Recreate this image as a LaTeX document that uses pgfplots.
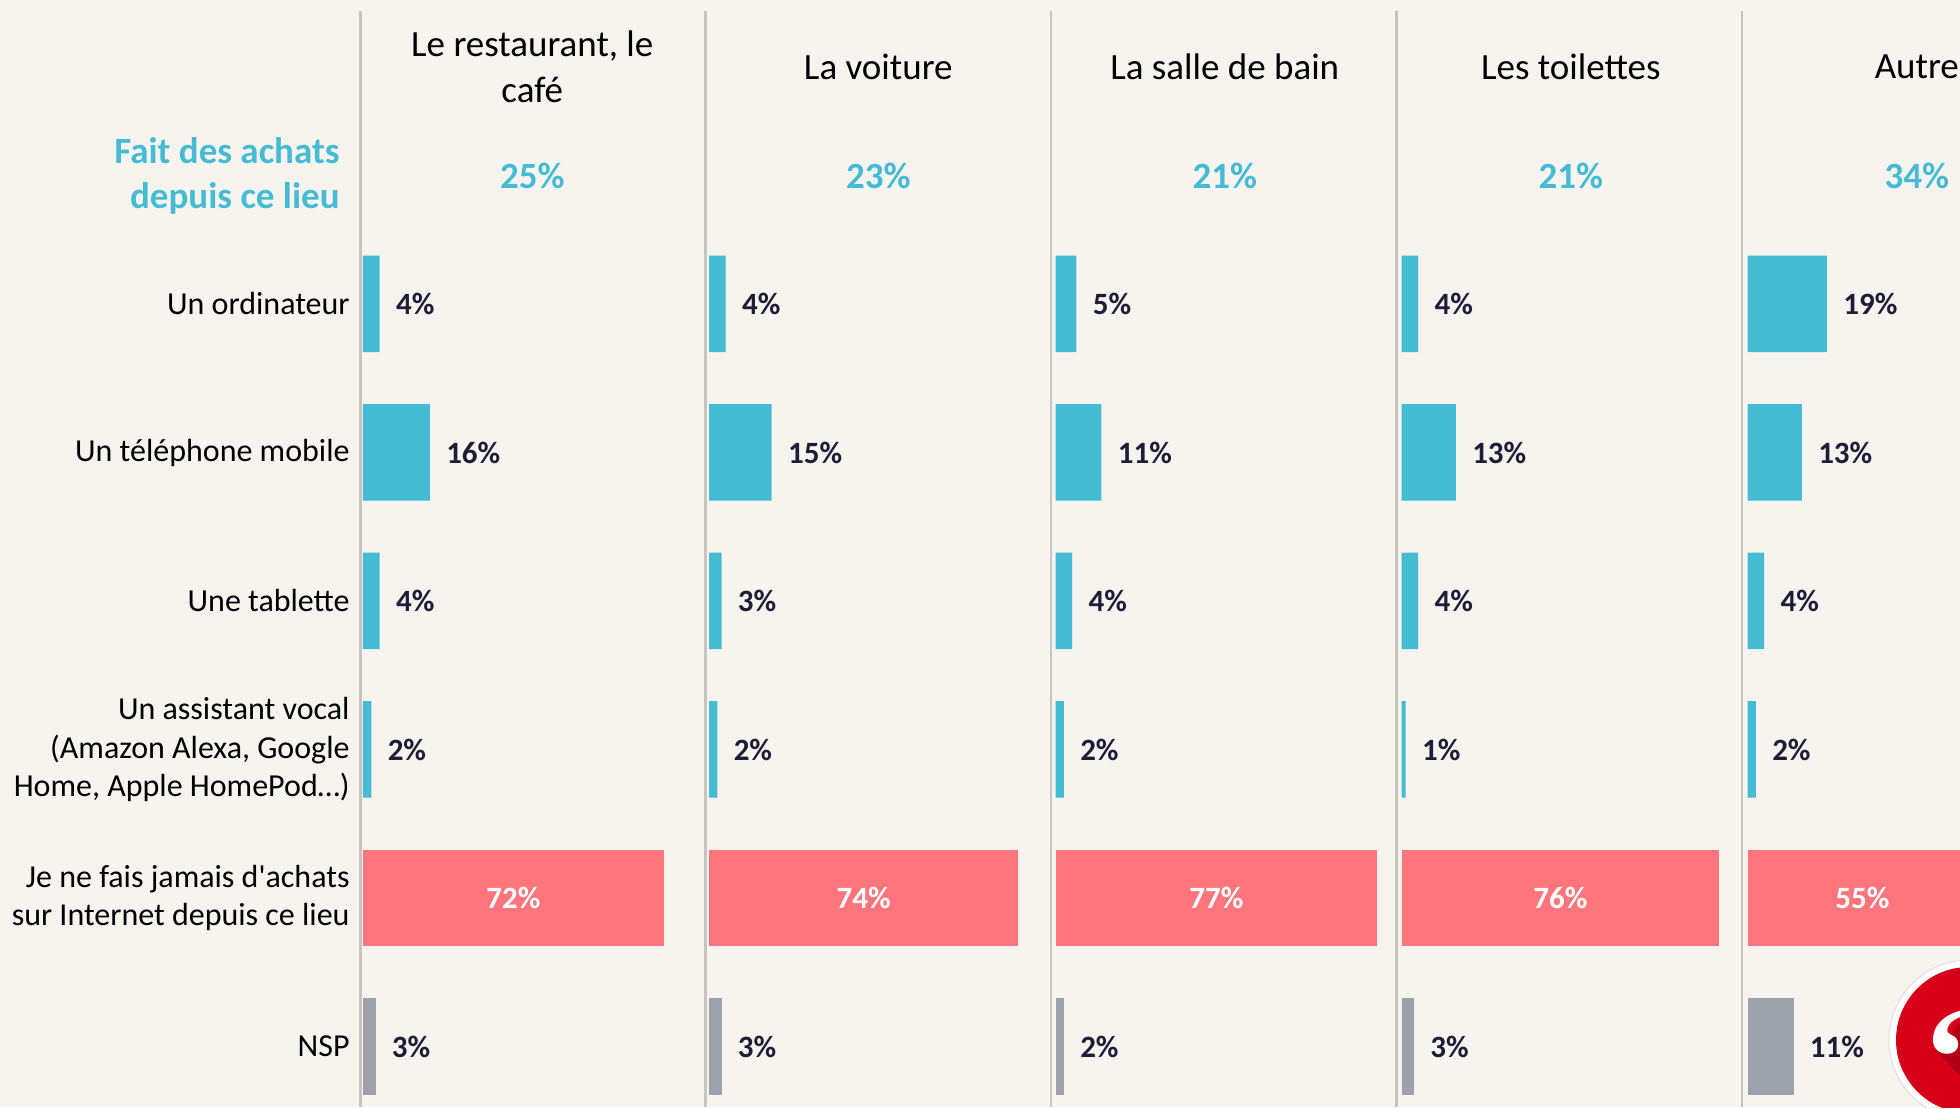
\documentclass[border=0pt]{standalone}
\usepackage{fontspec}
\setmainfont{Carlito}
\newfontfamily\quotefont{Liberation Serif}
\usepackage{pgfplots}
\pgfplotsset{compat=1.18}
\definecolor{bgc}{HTML}{F7F4EF}
\definecolor{cyanc}{HTML}{45BBD4}
\definecolor{pinkc}{HTML}{FF757B}
\definecolor{grayc}{HTML}{9DA1AC}
\definecolor{darkc}{HTML}{1E1C36}
\definecolor{sepc}{HTML}{C6C3C1}
\definecolor{logored}{HTML}{D7001A}
\definecolor{logoshadow}{HTML}{B00015}
\newcommand\valfont{\fontsize{15.5}{18}\selectfont\bfseries}
\newcommand\lblfont{\fontsize{16}{19.4}\selectfont}
\newcommand\hdfont{\fontsize{18.5}{23}\selectfont}
\newcommand\hdbold{\fontsize{18.5}{22.5}\selectfont\bfseries}
\newcommand\homepod{Home, Apple HomePod\textellipsis)}
\pgfplotsset{
  panel/.style={anchor=north west, scale only axis, x=2.09pt, y=74.25pt, y dir=reverse,
    xmin=0, xmax=82.6, ymin=-2.047, ymax=5.407, clip=false,
    /pgf/number format/assume math mode=true,
    axis line style={draw=none}, tick style={draw=none}, major tick length=0pt,
    xtick=\empty, ytick=\empty},
  sidebar/.style={xbar, bar width=48.25pt, draw=none, fill=#1, point meta=x,
    nodes near coords={\pgfmathprintnumber{\pgfplotspointmeta}\%},
    nodes near coords style={anchor=west, inner sep=0pt, xshift=8pt, text=darkc, font=\valfont}},
  inbar/.style={xbar, bar width=48.25pt, draw=none, fill=pinkc, point meta=x,
    visualization depends on={x \as \rawx},
    nodes near coords={\pgfmathprintnumber{\pgfplotspointmeta}\%},
    nodes near coords style={anchor=center, inner sep=0pt, text=white, font=\valfont,
      shift={(axis direction cs:-\rawx/2,0)}}},
  topval/.style={only marks, mark=none, point meta=explicit,
    nodes near coords={\pgfmathprintnumber{\pgfplotspointmeta}\%},
    nodes near coords style={anchor=center, inner sep=0pt, text=cyanc, font=\hdbold}},
}
\begin{document}
\begin{tikzpicture}[trim left=0pt, trim right=980pt]
\fill[bgc] (0pt,0pt) rectangle (980pt,-553.5pt);
\foreach \sx in {180.15,352.75,525.5,698.25,871}
  \draw[sepc, line width=1.3pt] (\sx pt,-5.35pt) -- (\sx pt,-553.5pt);

% Panel 1
\begin{axis}[panel, at={(181.5pt,0pt)},
  ytick={0,1,2,3,4,5},
  yticklabels={{Un ordinateur},{Un téléphone mobile},{Une tablette},{Un assistant vocal\\(Amazon Alexa, Google\\\homepod},{Je ne fais jamais d\textquotesingle achats\\sur Internet depuis ce lieu},{NSP}},
  yticklabel style={align=right, font=\lblfont, inner sep=0pt, xshift=-6.5pt, text=black},
  extra y ticks={-0.862},
  extra y tick labels={{Fait des achats\\depuis ce lieu}},
  extra y tick style={yticklabel style={font=\hdbold, text=cyanc, xshift=-5pt}}]
\addplot[sidebar=cyanc] coordinates {(4,0) (16,1) (4,2) (2,3)};
\addplot[inbar] coordinates {(72,4)};
\addplot[sidebar=grayc] coordinates {(3,5)};
\addplot[topval] coordinates {(40.5,-0.862) [25]};
\node[font=\hdfont, align=center] at (axis cs:40.5,-1.596) {Le restaurant, le\\café};
\end{axis}

% Panel 2
\begin{axis}[panel, at={(354.5pt,0pt)}]
\addplot[sidebar=cyanc] coordinates {(4,0) (15,1) (3,2) (2,3)};
\addplot[inbar] coordinates {(74,4)};
\addplot[sidebar=grayc] coordinates {(3,5)};
\addplot[topval] coordinates {(40.5,-0.862) [23]};
\node[font=\hdfont, align=center] at (axis cs:40.5,-1.596) {La voiture};
\end{axis}

% Panel 3
\begin{axis}[panel, at={(527.75pt,0pt)}]
\addplot[sidebar=cyanc] coordinates {(5,0) (11,1) (4,2) (2,3)};
\addplot[inbar] coordinates {(77,4)};
\addplot[sidebar=grayc] coordinates {(2,5)};
\addplot[topval] coordinates {(40.5,-0.862) [21]};
\node[font=\hdfont, align=center] at (axis cs:40.5,-1.596) {La salle de bain};
\end{axis}

% Panel 4
\begin{axis}[panel, at={(700.75pt,0pt)}]
\addplot[sidebar=cyanc] coordinates {(4,0) (13,1) (4,2) (1,3)};
\addplot[inbar] coordinates {(76,4)};
\addplot[sidebar=grayc] coordinates {(3,5)};
\addplot[topval] coordinates {(40.5,-0.862) [21]};
\node[font=\hdfont, align=center] at (axis cs:40.5,-1.596) {Les toilettes};
\end{axis}

% Panel 5 (cut at the right edge of the picture)
\begin{axis}[panel, at={(873.75pt,0pt)}]
\addplot[sidebar=cyanc] coordinates {(19,0) (13,1) (4,2) (2,3)};
\addplot[inbar] coordinates {(55,4)};
\addplot[sidebar=grayc] coordinates {(11,5)};
\addplot[topval] coordinates {(40.5,-0.862) [34]};
\node[font=\hdfont, align=center] at (axis cs:40.5,-1.596) {Autre};
\end{axis}

% logo (decoration), clipped to the picture
\begin{scope}
\clip (0pt,0pt) rectangle (980pt,-553.5pt);
\fill[white, draw=black!15, line width=0.4pt] (984.5pt,-520pt) circle (40pt);
\begin{scope}
\clip (984.5pt,-520pt) circle (36.5pt);
\fill[logored] (984.5pt,-520pt) circle (36.5pt);
\fill[logoshadow] (968pt,-525pt) -- (985pt,-506pt) -- (1030pt,-550pt) -- (1010pt,-570pt) -- cycle;
\node[white, font=\quotefont\bfseries\fontsize{72}{72}\selectfont, anchor=base west, inner sep=0pt] at (963pt,-553pt) {“};
\end{scope}
\end{scope}
\end{tikzpicture}
\end{document}
